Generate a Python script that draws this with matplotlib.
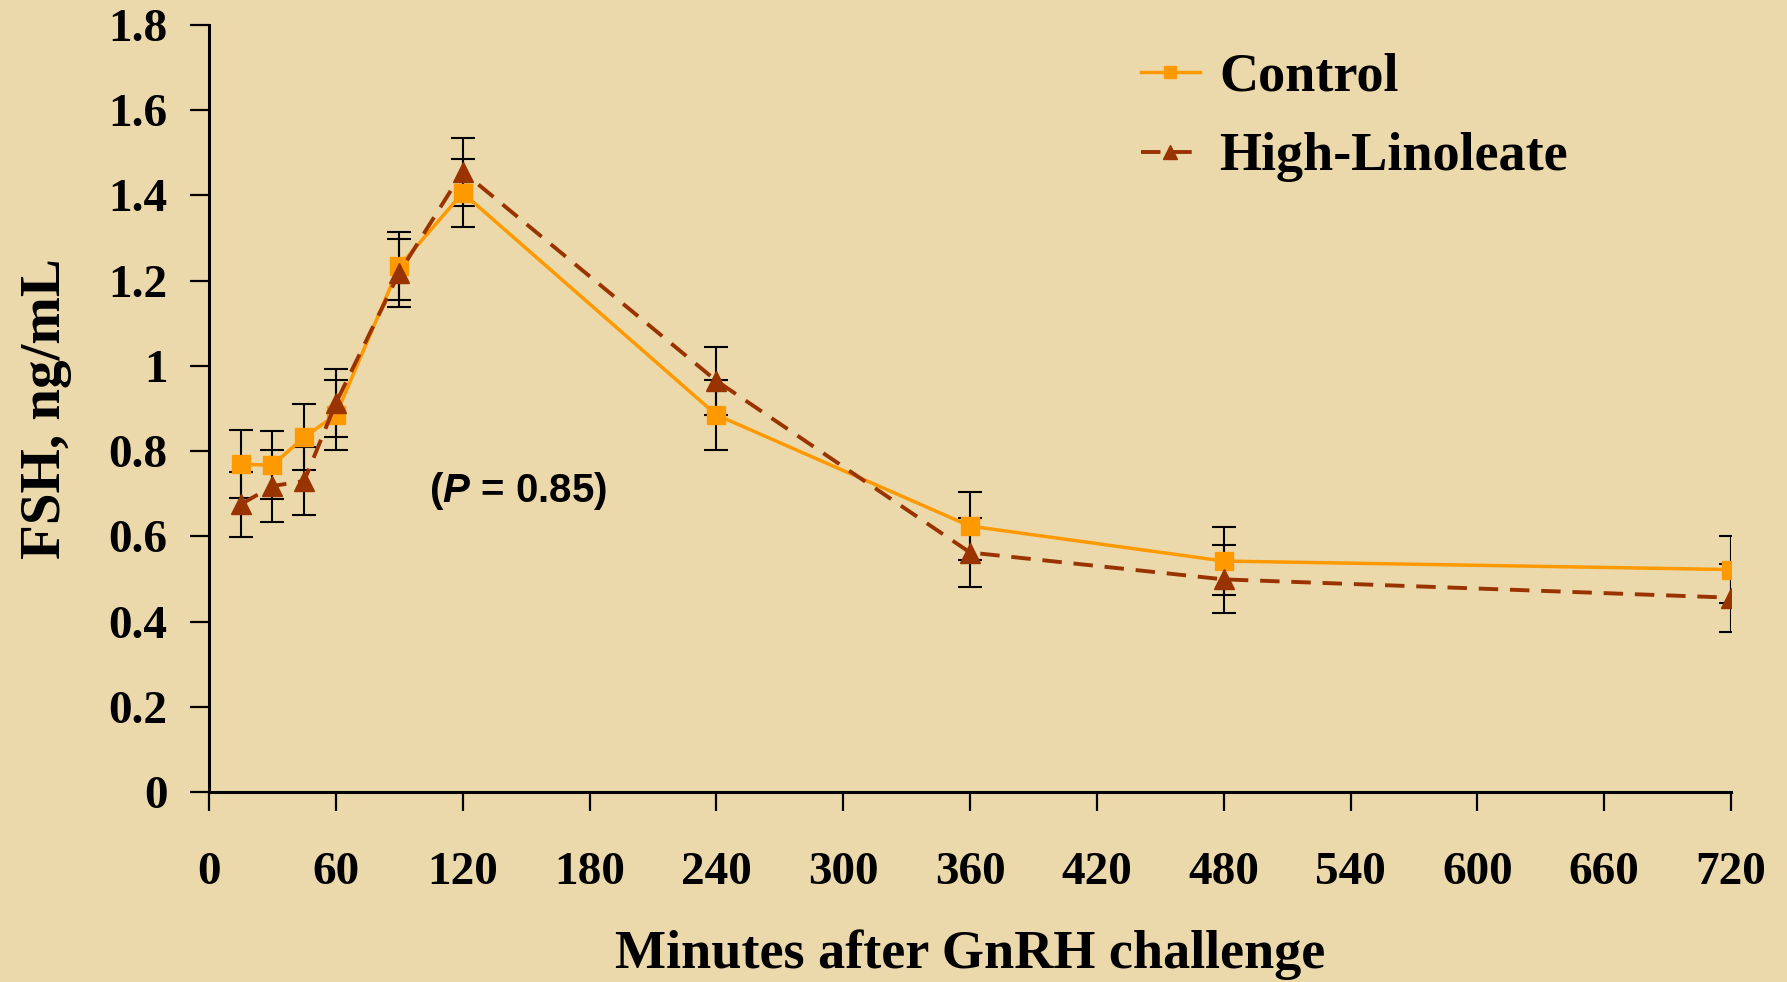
import matplotlib
matplotlib.use('Agg')
import matplotlib.pyplot as plt

minutes = [15, 30, 45, 60, 90, 120, 240, 360, 480, 720]
control = [0.769, 0.767, 0.833, 0.885, 1.234, 1.406, 0.885, 0.624, 0.542, 0.522]
control_err = [0.08, 0.08, 0.078, 0.082, 0.08, 0.08, 0.083, 0.08, 0.08, 0.079]
linoleate = [0.675, 0.718, 0.730, 0.913, 1.219, 1.456, 0.965, 0.562, 0.499, 0.456]
linoleate_err = [0.077, 0.084, 0.08, 0.08, 0.08, 0.08, 0.08, 0.08, 0.08, 0.08]

x_ticks = list(range(0, 721, 60))
y_ticks = [0, 0.2, 0.4, 0.6, 0.8, 1, 1.2, 1.4, 1.6, 1.8]
y_tick_labels = ['0', '0.2', '0.4', '0.6', '0.8', '1', '1.2', '1.4', '1.6', '1.8']

bg = '#ecd9ab'
orange = '#ff9900'
brown = '#993300'

plt.rcParams['lines.scale_dashes'] = False
plt.rcParams['mathtext.fontset'] = 'custom'
plt.rcParams['mathtext.it'] = 'Liberation Sans:italic:bold'
plt.rcParams['mathtext.rm'] = 'Liberation Sans:bold'

fig = plt.figure(figsize=(17.87, 9.82), dpi=100, facecolor=bg)
ax = fig.add_axes([0.117, 0.1935, 0.8517, 0.781])
ax.set_facecolor(bg)

# error bars underneath
ax.errorbar(minutes, control, yerr=control_err, fmt='none', ecolor='black',
            elinewidth=1.5, capsize=8.5, capthick=1.5, zorder=2)
ax.errorbar(minutes, linoleate, yerr=linoleate_err, fmt='none', ecolor='black',
            elinewidth=1.5, capsize=8.5, capthick=1.5, zorder=2)

ax.plot(minutes, control, color=orange, lw=2.5, marker='s', markersize=13,
        label='Control', zorder=3)
ax.plot(minutes, linoleate, color=brown, lw=2.8, dashes=(14, 8.5), marker='^',
        markersize=14, label='High-Linoleate', zorder=4)

ax.set_xlim(0, 720)
ax.set_ylim(0, 1.8)
ax.set_xticks(x_ticks)
ax.set_yticks(y_ticks)
ax.set_yticklabels(y_tick_labels)

for s in ['top', 'right']:
    ax.spines[s].set_visible(False)
for s in ['left', 'bottom']:
    ax.spines[s].set_linewidth(2.2)

ax.tick_params(axis='both', direction='out', length=14, width=1.6, color='black')
ax.tick_params(axis='x', pad=29)
ax.tick_params(axis='y', pad=16)
for lab in ax.get_xticklabels():
    lab.set_fontfamily('Liberation Serif')
    lab.set_fontweight('bold')
    lab.set_fontsize(34)
for lab in ax.get_yticklabels():
    lab.set_fontfamily('Liberation Serif')
    lab.set_fontweight('bold')
    lab.set_fontsize(34)

ax.set_xlabel('Minutes after GnRH challenge', fontfamily='Liberation Serif',
              fontweight='bold', fontsize=39, va='center')
ax.xaxis.set_label_coords(0.5, -0.212)
ax.set_ylabel('FSH, ng/mL', fontfamily='Liberation Serif',
              fontweight='bold', fontsize=41, va='center')
ax.yaxis.set_label_coords(-0.107, 0.5)

ax.text(146, 0.706, r'($P$ = 0.85)', fontfamily='Liberation Sans',
        fontweight='bold', fontsize=29, ha='center', va='center')

leg = ax.legend(loc='upper left', bbox_to_anchor=(0.611, 0.996),
                bbox_transform=fig.transFigure, frameon=False,
                prop={'family': 'Liberation Serif', 'weight': 'bold', 'size': 39},
                handlelength=1.1, handletextpad=0.35, labelspacing=0.55,
                markerscale=0.7)

fig.savefig('out.png', dpi=100, facecolor=bg)
